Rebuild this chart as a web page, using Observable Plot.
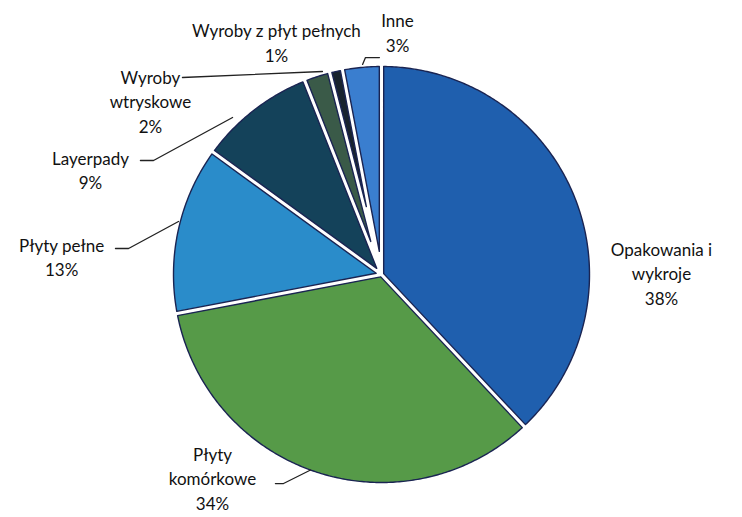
<!DOCTYPE html>
<html><head><meta charset="utf-8">
<script src="https://cdn.jsdelivr.net/npm/d3@7"></script>
<script src="https://cdn.jsdelivr.net/npm/@observablehq/plot@0.6"></script>
<style>body{margin:0;background:#fff;}</style>
</head><body><div id="chart"></div>
<script>
// ---- data ----
const categories = ["Opakowania i wykroje", "Płyty komórkowe", "Płyty pełne", "Layerpady", "Wyroby wtryskowe", "Wyroby z płyt pełnych", "Inne"];
const labelLines = ["Opakowania i\nwykroje", "Płyty\nkomórkowe", "Płyty pełne", "Layerpady", "Wyroby\nwtryskowe", "Wyroby z płyt pełnych", "Inne"];
const values = [38, 34, 13, 9, 2, 1, 3];

// ---- styles / layout ----
const colors = ["#1f5fae", "#569a48", "#2a8cca", "#14425a", "#3a5a48", "#18232e", "#3a7ecf"];
// label centres in pie-radius units (centre = 0,0)
const labelX = [1.346, -0.8125, -1.538, -1.399, -1.111, -0.505, 0.077];
const labelY = [0.010, -0.976, 0.089, 0.507, 0.837, 1.120, 1.168];
// leader lines in pie-radius units
const leaders = [
  {name: "Płyty komórkowe", pts: [[-0.510,-1.005],[-0.471,-1.005],[-0.341,-0.940]]},
  {name: "Płyty pełne", pts: [[-1.279,0.125],[-1.216,0.125],[-0.976,0.255]]},
  {name: "Layerpady", pts: [[-1.159,0.548],[-1.096,0.548],[-0.716,0.755]]},
  {name: "Wyroby wtryskowe", pts: [[-0.957,0.947],[-0.284,0.976]]},
  {name: "Inne", pts: [[-0.091,1.010],[-0.077,1.043],[-0.010,1.043]]}
];

// ---- geometry ----
const table = categories.map((c, i) => ({name: c, value: values[i], color: colors[i]}));
const arcs = d3.pie().sort(null).value(d => d.value)(table);
const gap = 0.0105;
const slicePts = [];
arcs.forEach(a => {
  const a0 = a.startAngle, a1 = a.endAngle;
  const half = (a1 - a0) / 2, mid = (a0 + a1) / 2;
  const d = gap / Math.sin(half);
  const apex = {name: a.data.name, color: a.data.color, x: d * Math.sin(mid), y: d * Math.cos(mid)};
  slicePts.push(apex);
  const s0 = a0 + Math.asin(gap), s1 = a1 - Math.asin(gap);
  const n = Math.max(4, Math.ceil((s1 - s0) / 0.01));
  for (let k = 0; k <= n; k++) {
    const t = s0 + (s1 - s0) * k / n;
    slicePts.push({name: a.data.name, color: a.data.color, x: Math.sin(t), y: Math.cos(t)});
  }
  slicePts.push({...apex});
});
const leaderPts = leaders.flatMap(l => l.pts.map(p => ({name: l.name, x: p[0], y: p[1]})));
const labelData = table.map((d, i) => ({text: labelLines[i] + "\n" + d.value + "%", x: labelX[i], y: labelY[i]}));

const chart = Plot.plot({
  width: 742, height: 517,
  marginLeft: 173, marginRight: 153, marginTop: 66, marginBottom: 35,
  x: {domain: [-1, 1], axis: null},
  y: {domain: [-1, 1], axis: null},
  style: {fontFamily: "Lato, 'Open Sans', sans-serif", background: "#fff"},
  marks: [
    Plot.line(slicePts, {x: "x", y: "y", z: "name", fill: "color", stroke: "#1a2452", strokeWidth: 1.4, strokeLinejoin: "round"}),
    Plot.line(leaderPts, {x: "x", y: "y", z: "name", stroke: "#222", strokeWidth: 1.3}),
    Plot.text(labelData, {x: "x", y: "y", text: "text", fontSize: 17, lineHeight: 1.45, fill: "#111", textAnchor: "middle", lineAnchor: "middle"})
  ]
});
document.getElementById("chart").appendChild(chart);
</script>
</body></html>
